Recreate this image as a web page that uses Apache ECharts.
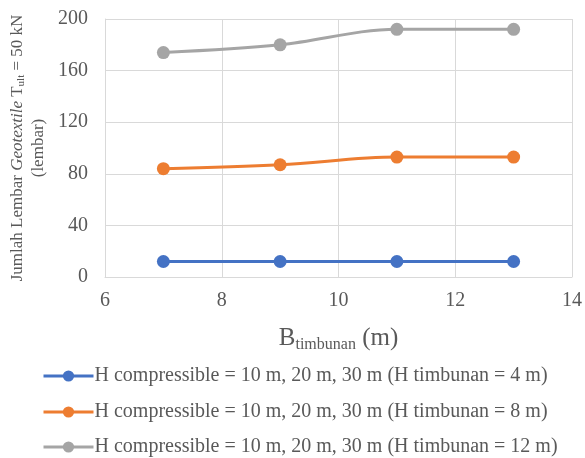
<!DOCTYPE html>
<html>
<head>
<meta charset="utf-8">
<script src="https://cdn.jsdelivr.net/npm/echarts@6/dist/echarts.min.js"></script>
<style>
html, body { margin: 0; padding: 0; background: #fff; }
#chart { width: 585px; height: 458px; }
</style>
</head>
<body>
<div id="chart"></div>
<script>
// lebar timbunan (m)
var bTimbunan = [7, 9, 11, 13]
// jumlah lembar geotextile per tinggi timbunan
var lembarH4 = [12, 12, 12, 12]
var lembarH8 = [84, 87, 93, 93]
var lembarH12 = [174, 180, 192, 192]
var seriesNames = [
    'H compressible = 10 m, 20 m, 30 m (H timbunan = 4 m)',
    'H compressible = 10 m, 20 m, 30 m (H timbunan = 8 m)',
    'H compressible = 10 m, 20 m, 30 m (H timbunan = 12 m)'
]
var colors = ['#4472c4', '#ed7d31', '#a5a5a5']

var font = 'Liberation Serif'
var grey = '#595959'

function pairs(xs, ys) {
    return xs.map(function (x, i) { return [x, ys[i]] })
}

function makeSeries(name, values, color) {
    return {
        name: name,
        type: 'line',
        data: pairs(bTimbunan, values),
        smooth: 0.35,
        symbol: 'circle',
        symbolSize: 13,
        itemStyle: { color: color },
        lineStyle: { color: color, width: 3 },
        emphasis: { disabled: true }
    }
}

function makeLegend(name, top) {
    return {
        data: [name],
        left: 42,
        top: top,
        itemWidth: 50,
        itemHeight: 14,
        itemGap: 0,
        padding: 0,
        lineStyle: { width: 3 },
        textStyle: { fontFamily: font, fontSize: 20, color: grey, padding: [0, 0, 0, -4] }
    }
}

var option = {
    animation: false,
    textStyle: { fontFamily: font },
    grid: { left: 105, right: 13, top: 19, bottom: 181, containLabel: false, outerBoundsMode: 'none' },
    xAxis: {
        type: 'value',
        min: 6, max: 14, interval: 2,
        name: '{a|B}{s|timbunan}{a| (m)}',
        nameLocation: 'middle',
        nameGap: 46,
        nameTextStyle: {
            rich: {
                a: { fontFamily: font, fontSize: 25, color: grey, lineHeight: 30 },
                s: { fontFamily: font, fontSize: 16, color: grey, verticalAlign: 'bottom', lineHeight: 22, padding: [12, 0, 0, 0] }
            }
        },
        axisLine: { show: true, lineStyle: { color: '#d9d9d9', width: 1 } },
        axisTick: { show: false },
        splitLine: { show: true, lineStyle: { color: '#d9d9d9', width: 1 } },
        axisLabel: { fontFamily: font, fontSize: 20, color: grey, margin: 14 }
    },
    yAxis: {
        type: 'value',
        min: 0, max: 200, interval: 40,
        name: '{a|Jumlah Lembar }{i|Geotextile}{a| T}{s|ult}{a| = 50 kN}\n{a|(lembar)}',
        nameLocation: 'middle',
        nameRotate: 90,
        nameGap: 53,
        nameTextStyle: {
            align: 'center',
            rich: {
                a: { fontFamily: font, fontSize: 17, color: grey, lineHeight: 21 },
                i: { fontFamily: font, fontSize: 17, fontStyle: 'italic', color: grey, lineHeight: 21 },
                s: { fontFamily: font, fontSize: 11, color: grey, lineHeight: 16, padding: [8, 0, 0, 0] }
            }
        },
        axisLine: { show: true, lineStyle: { color: '#d9d9d9', width: 1 } },
        axisTick: { show: false },
        splitLine: { show: true, lineStyle: { color: '#d9d9d9', width: 1 } },
        axisLabel: { fontFamily: font, fontSize: 20, color: grey, margin: 17 }
    },
    legend: [
        makeLegend(seriesNames[0], 366),
        makeLegend(seriesNames[1], 402),
        makeLegend(seriesNames[2], 437)
    ],
    series: [
        makeSeries(seriesNames[0], lembarH4, colors[0]),
        makeSeries(seriesNames[1], lembarH8, colors[1]),
        makeSeries(seriesNames[2], lembarH12, colors[2])
    ]
}

var chart = echarts.init(document.getElementById('chart'))
chart.setOption(option)
</script>
</body>
</html>
